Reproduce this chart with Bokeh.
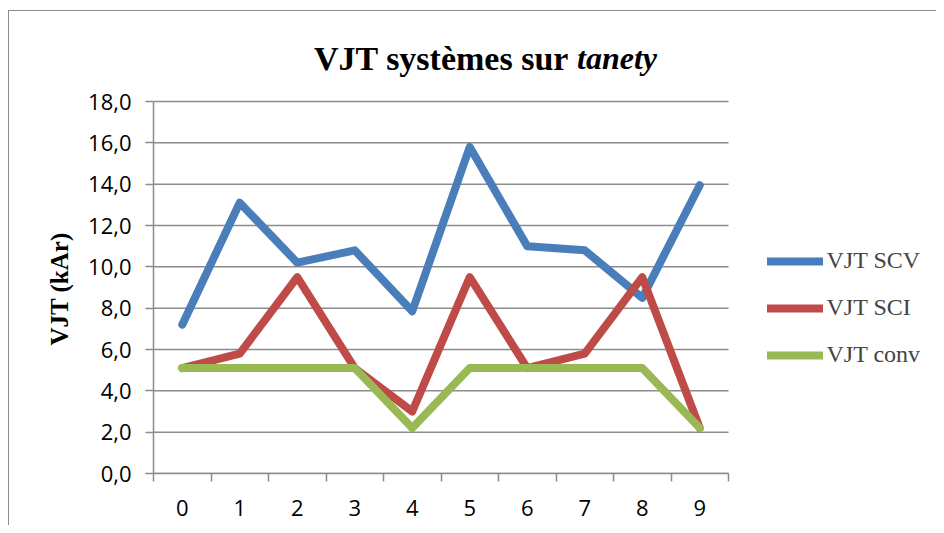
from bokeh.plotting import figure
from bokeh.models import FixedTicker, Legend, LegendItem, Label, Range1d, Title
from bokeh.embed import file_html
from bokeh.resources import INLINE

x_vals = [0, 1, 2, 3, 4, 5, 6, 7, 8, 9]
scv = [7.2, 13.1, 10.2, 10.8, 7.85, 15.8, 11.0, 10.8, 8.5, 13.95]
sci = [5.1, 5.8, 9.5, 5.1, 3.0, 9.5, 5.1, 5.8, 9.5, 2.2]
conv = [5.1, 5.1, 5.1, 5.1, 2.2, 5.1, 5.1, 5.1, 5.1, 2.2]
series_names = ["VJT SCV", "VJT SCI", "VJT conv"]
colors = ["#4A7EBB", "#BE4B48", "#98B954"]
y_ticks = [0, 2, 4, 6, 8, 10, 12, 14, 16, 18]
title_main = "VJT systèmes sur"
title_italic = "tanety"
y_title = "VJT (kAr)"

OFFX, OFFY = 9.5, 11.5     # page position of figure content (margin + border)
W, H = 928, 515
PL, PT = 144, 90           # left / top of the chart area (y=18), figure pixels
PW, PH = 575, 372          # width / height of chart area
x_lo, x_hi = x_vals[0] - 0.5, x_vals[-1] + 0.5
y_lo, y_hi = y_ticks[0], y_ticks[-1]
sx = PW / (x_hi - x_lo)
sy = PH / (y_hi - y_lo)
FR_RIGHT, FR_TOP = W - 2, 2
x_end = x_hi + (FR_RIGHT - (PL + PW)) / sx
y_end = y_hi + (PT - FR_TOP) / sy

def px_x(page_x):
    return x_lo + (page_x - OFFX - PL) / sx

def px_y(page_y):
    return y_lo + (PT + PH - (page_y - OFFY)) / sy

p = figure(width=W, height=H, output_backend="svg", toolbar_location=None,
           x_range=Range1d(x_lo, x_end), y_range=Range1d(y_lo, y_end),
           min_border_left=PL, min_border_right=W - FR_RIGHT, min_border_top=FR_TOP,
           min_border_bottom=H - (PT + PH))
p.outline_line_color = None
p.background_fill_color = "white"
p.border_fill_color = "white"
p.xgrid.visible = False
p.ygrid.visible = False

grid_color = "#8C8C8C"
# horizontal grid lines across the chart area
p.segment(x0=[x_lo] * len(y_ticks), x1=[x_hi] * len(y_ticks), y0=y_ticks, y1=y_ticks,
          line_color=grid_color, line_width=1.5)

# y axis
p.yaxis.bounds = (y_lo, y_hi)
p.yaxis.ticker = FixedTicker(ticks=y_ticks)
p.yaxis.major_label_overrides = {float(t): f"{t:.1f}".replace(".", ",") for t in y_ticks}
p.yaxis.axis_line_color = grid_color
p.yaxis.axis_line_width = 1.5
p.yaxis.major_tick_line_color = grid_color
p.yaxis.major_tick_line_width = 1.5
p.yaxis.major_tick_out = 8
p.yaxis.major_tick_in = 0
p.yaxis.minor_tick_line_color = None
p.yaxis.major_label_text_font = "Open Sans"
p.yaxis.major_label_text_font_size = "22px"
p.yaxis.major_label_text_color = "black"
p.yaxis.major_label_standoff = 14

# y axis title, centred on the 0-18 area
yt = Title(text=y_title, align="left", offset=128, standoff=26,
           text_font="Liberation Serif", text_font_style="bold", text_font_size="25px",
           text_color="black")
p.add_layout(yt, "left")

# x axis
bounds = [i - 0.5 for i in range(len(x_vals) + 1)]
p.xaxis.bounds = (x_lo, x_hi)
p.xaxis.ticker = FixedTicker(ticks=x_vals, minor_ticks=bounds)
p.xaxis.axis_line_color = grid_color
p.xaxis.axis_line_width = 1.5
p.xaxis.major_tick_line_color = None
p.xaxis.major_tick_out = 0
p.xaxis.major_tick_in = 0
p.xaxis.minor_tick_line_color = grid_color
p.xaxis.minor_tick_line_width = 1.5
p.xaxis.minor_tick_out = 8
p.xaxis.minor_tick_in = 0
p.xaxis.major_label_text_font = "Open Sans"
p.xaxis.major_label_text_font_size = "22px"
p.xaxis.major_label_text_color = "black"
p.xaxis.major_label_standoff = 18

renderers = []
for data, c in zip([scv, sci, conv], colors):
    r = p.line(x_vals, data, line_color=c, line_width=8, line_cap="round", line_join="round")
    renderers.append(r)

legend = Legend(items=[LegendItem(label=n, renderers=[r]) for n, r in zip(series_names, renderers)],
                location=(613.5, 104.5), padding=0, margin=0, spacing=19,
                glyph_width=56, glyph_height=28, label_height=28, label_standoff=4,
                label_text_font="Liberation Serif", label_text_font_size="24px",
                border_line_color=None, background_fill_alpha=0)
p.add_layout(legend, "center")

# title (bold, with the last word in italic)
t1 = Label(x=px_x(569), y=px_y(58), text=title_main, text_align="right", text_baseline="alphabetic",
           text_font="Liberation Serif", text_font_style="bold", text_font_size="34px", text_color="black")
t2 = Label(x=px_x(577), y=px_y(58), text=title_italic, text_align="left", text_baseline="alphabetic",
           text_font="Liberation Serif", text_font_style="bold italic", text_font_size="32px", text_color="black")
p.add_layout(t1)
p.add_layout(t2)

p.styles = {"border-left": "1.5px solid #8C8C8C", "border-top": "1.5px solid #8C8C8C",
            "margin-left": "8px", "margin-top": "10px"}

open("out.html", "w").write(file_html(p, INLINE))
